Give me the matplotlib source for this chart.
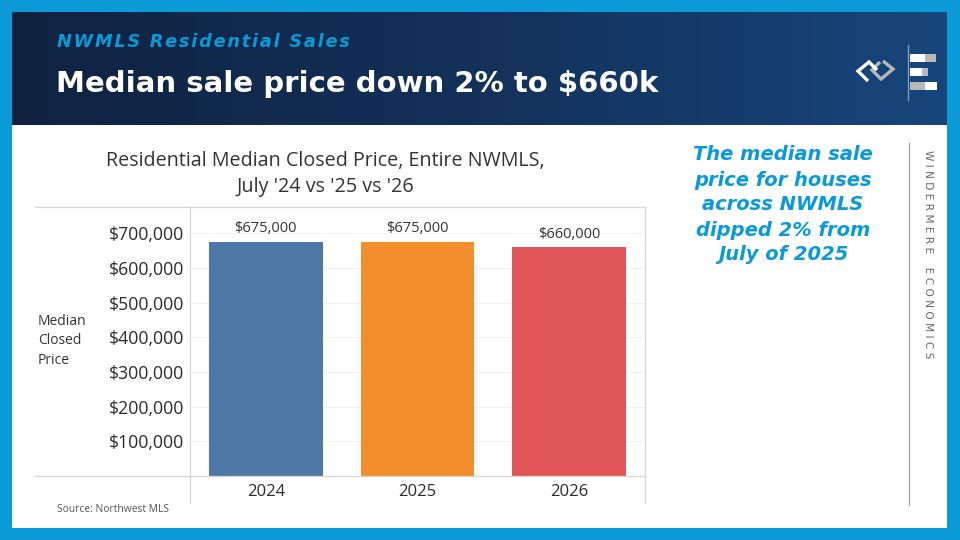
import numpy as np
import matplotlib
matplotlib.use("Agg")
import matplotlib.pyplot as plt
from matplotlib.patches import Rectangle
from matplotlib.lines import Line2D
from matplotlib.colors import LinearSegmentedColormap
from matplotlib.ticker import FuncFormatter

years = ["2024", "2025", "2026"]
median_price = [675000, 675000, 660000]
bar_colors = ["#4e79a7", "#f28e2b", "#e15759"]
y_ticks = [100000, 200000, 300000, 400000, 500000, 600000, 700000]

W, H = 960, 540
BLUE = "#0a9ad8"
TXT = "#2b2b2b"
FRAME = "#d6d6d6"


def fx(x):
    return x / W


def fy(y):
    return 1 - y / H


def spaced(s, gap="\u200a"):
    return gap.join(s)


fig = plt.figure(figsize=(9.6, 5.4), dpi=100)
fig.patch.set_facecolor(BLUE)


def fline(xs, ys, **kw):
    fig.add_artist(Line2D([fx(v) for v in xs], [fy(v) for v in ys],
                          transform=fig.transFigure, **kw))


# white body
fig.add_artist(Rectangle((fx(12), fy(528)), fx(947) - fx(12), fy(125) - fy(528),
                         transform=fig.transFigure, facecolor="white", edgecolor="none", zorder=0))

# header band, dark navy fading to blue on the right
hax = fig.add_axes([fx(12), fy(125), fx(947) - fx(12), fy(12) - fy(125)])
grad = np.linspace(0, 1, 256).reshape(1, -1)
cmap = LinearSegmentedColormap.from_list("hdr", ["#0f2240", "#13315a", "#17467c"])
hax.imshow(grad, aspect="auto", cmap=cmap, extent=[0, 1, 0, 1])
hax.set_axis_off()

fig.text(fx(57), fy(42), spaced("NWMLS Residential Sales"),
         color=BLUE, fontsize=12.8, fontweight="bold", style="italic",
         family="DejaVu Sans", va="center", ha="left")
fig.text(fx(56), fy(84), "Median sale price down 2% to $660k", color="white",
         fontsize=21, fontweight="bold", family="DejaVu Sans", va="center", ha="left")

# logo
fline([880, 872, 881, 893, 883], [62, 70, 79, 69, 61], color="#b8b8b8", lw=2.4,
      solid_joinstyle="miter", solid_capstyle="butt")
fline([877, 869, 858, 868], [70, 62, 71, 81], color="white", lw=2.4,
      solid_joinstyle="miter", solid_capstyle="butt")
fline([908, 908], [45, 100], color="#7f9ab8", lw=1)
for y0, segs in [(54, [(15, "white"), (11, "#b8b8b8")]),
                 (68, [(12, "white"), (6, "#b8b8b8")]),
                 (82, [(15, "#b8b8b8"), (12, "white")])]:
    x0 = 910
    for w, c in segs:
        fig.add_artist(Rectangle((fx(x0), fy(y0 + 8)), fx(w), 8 / H, transform=fig.transFigure,
                                 facecolor=c, edgecolor="none"))
        x0 += w

# chart
ax = fig.add_axes([fx(190), fy(476), fx(645) - fx(190), fy(207) - fy(476)])
x = np.arange(len(years))
bars = ax.bar(x, median_price, width=0.75, color=bar_colors, zorder=2)
for b, v in zip(bars, median_price):
    ax.annotate(f"${v:,.0f}", (b.get_x() + b.get_width() / 2, v), xytext=(0, 4),
                textcoords="offset points", ha="center", va="bottom",
                fontsize=10.5, color="#333333", family="Open Sans")
ax.set_xlim(-0.5, len(years) - 0.5)
ax.set_ylim(0, 776000)
ax.set_yticks(y_ticks)
ax.yaxis.set_major_formatter(FuncFormatter(lambda v, p: f"${v:,.0f}"))
ax.set_xticks(x, years)
ax.tick_params(axis="both", length=0, labelcolor=TXT)
ax.tick_params(axis="y", pad=4, labelsize=12.7)
ax.tick_params(axis="x", pad=6, labelsize=12)
for lab in ax.get_xticklabels() + ax.get_yticklabels():
    lab.set_family("Open Sans")
ax.grid(axis="y", color="#f1f1f1", lw=0.8, zorder=0)
for s in ax.spines.values():
    s.set_visible(False)
ax.set_facecolor("none")

# table frame lines
for xs, ys in [([35, 645], [207, 207]), ([35, 645], [476, 476]),
               ([190, 190], [207, 503]), ([645, 645], [207, 503])]:
    fline(xs, ys, color=FRAME, lw=0.9)

fig.text(fx(325), fy(174), "Residential Median Closed Price, Entire NWMLS,\nJuly '24 vs '25 vs '26",
         ha="center", va="center", fontsize=14.2, color="#333333", family="Open Sans",
         linespacing=1.35)
fig.text(fx(38), fy(341), "Median\nClosed\nPrice", ha="left", va="center", fontsize=10,
         color="#333333", family="Open Sans", linespacing=1.45)
fig.text(fx(57), fy(510), "Source: Northwest MLS", ha="left", va="center", fontsize=7.4,
         color="#555555", family="Open Sans")

# side note
fig.text(fx(783), fy(205), "The median sale\nprice for houses\nacross NWMLS\ndipped 2% from\nJuly of 2025",
         ha="center", va="center", fontsize=14, color=BLUE, fontweight="bold", style="italic",
         family="DejaVu Sans", linespacing=1.4)
fline([909, 909], [143, 505], color="#a0a0a0", lw=0.9)
fig.text(fx(928), fy(150), spaced("WINDERMERE", " ") + "    " + spaced("ECONOMICS", " "),
         rotation=-90, ha="center", va="top", fontsize=7.6, color="#666666",
         family="DejaVu Sans")

fig.savefig("out.png", dpi=100, facecolor=fig.get_facecolor())
